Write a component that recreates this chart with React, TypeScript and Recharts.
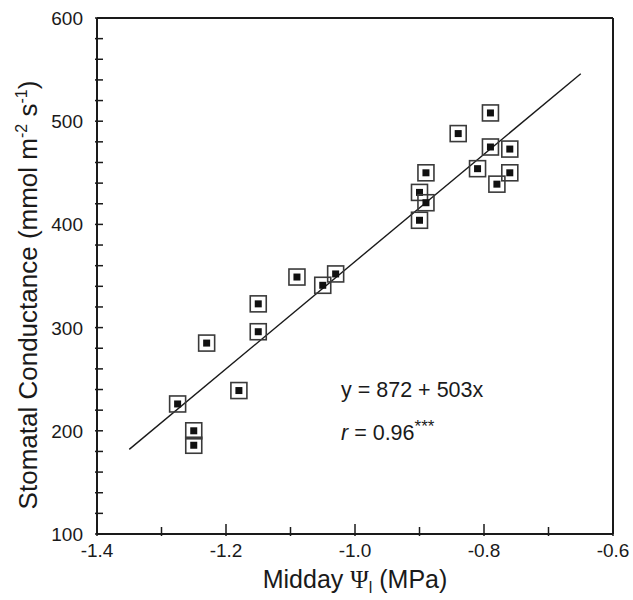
import { ScatterChart, Scatter, XAxis, YAxis, Customized } from "recharts"

// midday leaf water potential (MPa) vs stomatal conductance (mmol m-2 s-1)
const psiValues = [
    -1.275, -1.25, -1.25, -1.23, -1.18, -1.15, -1.15, -1.09, -1.05, -1.03,
    -0.9, -0.9, -0.89, -0.89, -0.84, -0.81, -0.79, -0.79, -0.78, -0.76, -0.76,
]
const conductance = [
    226, 200, 186, 285, 239, 323, 296, 349, 341, 352,
    404, 431, 450, 421, 488, 454, 508, 475, 439, 473, 450,
]

const fitX = [-1.35, -0.65]
const fitY = [182, 546]

const xTicks = [-1.4, -1.3, -1.2, -1.1, -1.0, -0.9, -0.8, -0.7, -0.6]
const yTicks = [100, 120, 140, 160, 180, 200, 220, 240, 260, 280, 300, 320, 340, 360, 380, 400, 420, 440, 460, 480, 500, 520, 540, 560, 580, 600]

const points = psiValues.map((x, i) => ({ x, y: conductance[i] }))
const fitLine = fitX.map((x, i) => ({ x, y: fitY[i] }))

const FONT = "'Liberation Sans', Arial, Helvetica, sans-serif"
const INK = "#1a1a1a"

const isMajorX = (v: number) => Math.round(v * 10) % 2 === 0
const isMajorY = (v: number) => v % 100 === 0

const XTick = ({ x, y, payload }: any) => {
    const v = payload.value
    const major = isMajorX(v)
    return (
        <g>
            <line x1={x} x2={x} y1={y} y2={y - (major ? 12 : 9)} stroke={INK} strokeWidth={1.5} />
            {major && (
                <text x={x} y={y + 21} textAnchor="middle" fontSize={19} fontFamily={FONT} fill={INK}>
                    {v.toFixed(1)}
                </text>
            )}
        </g>
    )
}

const YTick = ({ x, y, payload }: any) => {
    const v = payload.value
    return (
        <g>
            <line x1={x} x2={x + 8} y1={y} y2={y} stroke={INK} strokeWidth={1.5} />
            {isMajorY(v) && (
                <text x={x - 12} y={y + 7} textAnchor="end" fontSize={19} fontFamily={FONT} fill={INK}>
                    {v}
                </text>
            )}
        </g>
    )
}

const RightTick = ({ x, y }: any) => (
    <line x1={x} x2={x - 8} y1={y} y2={y} stroke={INK} strokeWidth={1.5} />
)

const BoxMarker = ({ cx, cy }: any) => (
    <g>
        <rect x={cx - 8} y={cy - 8} width={16} height={16} fill="#fff" fillOpacity={0} stroke="#3a3a3a" strokeWidth={1.6} />
        <rect x={cx - 3.5} y={cy - 3.5} width={7} height={7} fill="#111" />
    </g>
)

const Annotations = () => (
    <g fontFamily={FONT} fill={INK}>
        <text x={341} y={397} fontSize={21.5}>y = 872 + 503x</text>
        <text x={341} y={440} fontSize={21.5}>
            <tspan fontStyle="italic">r</tspan> = 0.96<tspan fontSize={17} dy={-8}>***</tspan>
        </text>
        <text transform="rotate(-90)" x={-295} y={37} textAnchor="middle" fontSize={26}>
            Stomatal Conductance (mmol m<tspan fontSize={16} dy={-10}>-2</tspan>
            <tspan dy={10}> s</tspan><tspan fontSize={16} dy={-10}>-1</tspan><tspan dy={10}>)</tspan>
        </text>
        <text x={355} y={588} textAnchor="middle" fontSize={25}>
            Midday <tspan fontFamily="'Liberation Serif', 'Times New Roman', serif">Ψ</tspan>
            <tspan fontSize={16} dy={5}>l</tspan><tspan dy={-5}> (MPa)</tspan>
        </text>
    </g>
)

export default function App() {
    return (
        <div style={{ position: "absolute", left: 0, top: 0, width: 633, height: 600, background: "#fff" }}>
            <ScatterChart width={633} height={600} margin={{ top: 17, right: 19, bottom: 65, left: 96 }}>
                <XAxis
                    type="number"
                    dataKey="x"
                    domain={[-1.4, -0.6]}
                    ticks={xTicks}
                    interval={0}
                    height={1}
                    tickSize={0}
                    tickLine={false}
                    axisLine={{ stroke: INK, strokeWidth: 2 }}
                    tick={<XTick />}
                    allowDataOverflow
                />
                <XAxis
                    xAxisId="top"
                    orientation="top"
                    type="number"
                    domain={[-1.4, -0.6]}
                    height={1}
                    tick={false}
                    tickLine={false}
                    axisLine={{ stroke: INK, strokeWidth: 2 }}
                />
                <YAxis
                    type="number"
                    dataKey="y"
                    domain={[100, 600]}
                    ticks={yTicks}
                    interval={0}
                    width={1}
                    tickSize={0}
                    tickLine={false}
                    axisLine={{ stroke: INK, strokeWidth: 2 }}
                    tick={<YTick />}
                    allowDataOverflow
                />
                <YAxis
                    yAxisId="right"
                    orientation="right"
                    type="number"
                    domain={[100, 600]}
                    ticks={yTicks}
                    interval={0}
                    width={1}
                    tickSize={0}
                    tickLine={false}
                    axisLine={{ stroke: INK, strokeWidth: 2 }}
                    tick={<RightTick />}
                />
                <Scatter
                    data={fitLine}
                    line={{ stroke: INK, strokeWidth: 1.4 }}
                    shape={() => <g />}
                    isAnimationActive={false}
                />
                <Scatter data={points} shape={<BoxMarker />} isAnimationActive={false} />
                <Customized component={Annotations} />
            </ScatterChart>
        </div>
    )
}
